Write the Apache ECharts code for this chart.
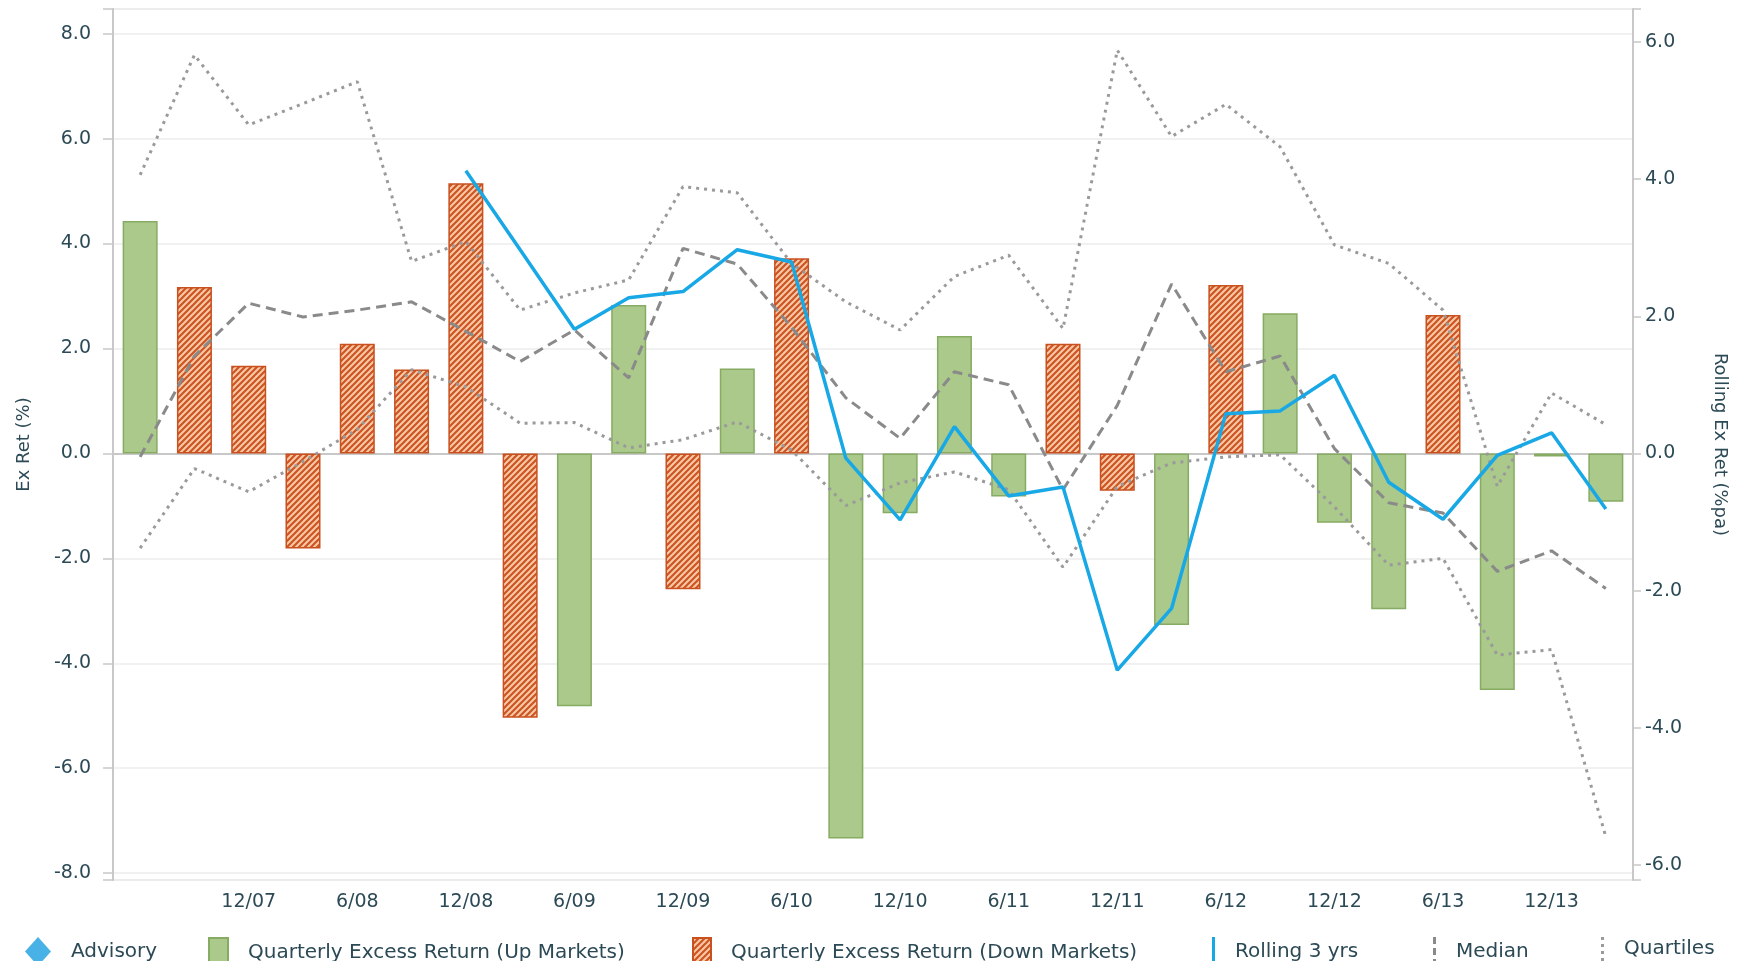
<!DOCTYPE html>
<html>
<head>
<meta charset="utf-8">
<script src="https://cdn.jsdelivr.net/npm/echarts@6/dist/echarts.min.js"></script>
<style>
  html, body { margin: 0; padding: 0; background: #fff; }
  #main { width: 1747px; height: 961px; }
</style>
</head>
<body>
<div id="main"></div>
<script>
var quarters = ['6/07', '9/07', '12/07', '3/08', '6/08', '9/08', '12/08', '3/09', '6/09', '9/09',
  '12/09', '3/10', '6/10', '9/10', '12/10', '3/11', '6/11', '9/11', '12/11', '3/12',
  '6/12', '9/12', '12/12', '3/13', '6/13', '9/13', '12/13', '3/14']

// quarterly excess return (%), split by market direction
var upMarkets = [4.43, '-', '-', '-', '-', '-', '-', '-', -4.82, 2.83,
  '-', 1.62, '-', -7.34, -1.14, 2.24, -0.82, '-', '-', -3.27,
  '-', 2.67, -1.32, -2.97, '-', -4.51, -0.06, -0.92]
var downMarkets = ['-', 3.17, 1.67, -1.81, 2.09, 1.60, 5.15, -5.04, '-', '-',
  -2.59, '-', 3.72, '-', '-', '-', '-', 2.09, -0.71, '-',
  3.21, '-', '-', '-', 2.64, '-', '-', '-']

// rolling excess return (%pa)
var rolling3y = ['-', '-', '-', '-', '-', '-', 4.12, 2.97, 1.81, 2.27,
  2.36, 2.97, 2.79, -0.07, -0.97, 0.39, -0.62, -0.49, -3.16, -2.26,
  0.58, 0.62, 1.14, -0.42, -0.96, -0.03, 0.30, -0.81]
var median = [-0.05, 1.42, 2.19, 1.99, 2.09, 2.21, 1.78, 1.34, 1.80, 1.10,
  2.99, 2.76, 1.84, 0.81, 0.22, 1.19, 1.00, -0.53, 0.70, 2.47,
  1.19, 1.42, 0.07, -0.72, -0.87, -1.72, -1.42, -1.97]
var upperQuartile = [4.06, 5.81, 4.79, 5.10, 5.42, 2.80, 3.09, 2.09, 2.34, 2.53,
  3.89, 3.80, 2.77, 2.21, 1.80, 2.58, 2.89, 1.82, 5.88, 4.62,
  5.09, 4.47, 3.04, 2.77, 2.09, -0.48, 0.88, 0.42]
var lowerQuartile = [-1.38, -0.22, -0.56, -0.12, 0.35, 1.22, 0.97, 0.44, 0.45, 0.08,
  0.20, 0.46, 0.05, -0.76, -0.43, -0.27, -0.53, -1.66, -0.48, -0.14,
  -0.05, -0.02, -0.78, -1.63, -1.53, -2.94, -2.86, -5.59]

var textColor = '#2c4a56'
var font = 'DejaVu Sans'

// hatched fill for the down-market bars
function hatch() {
  var s = 6
  var c = document.createElement('canvas')
  c.width = s
  c.height = s
  var ctx = c.getContext('2d')
  ctx.fillStyle = '#f7c9a6'
  ctx.fillRect(0, 0, s, s)
  ctx.strokeStyle = '#cc5523'
  ctx.lineWidth = 2.2
  ctx.beginPath()
  ctx.moveTo(-1, s + 1); ctx.lineTo(s + 1, -1)
  ctx.moveTo(-1, 1); ctx.lineTo(1, -1)
  ctx.moveTo(s - 1, s + 1); ctx.lineTo(s + 1, s - 1)
  ctx.stroke()
  return c
}
var hatchFill = { image: hatch(), repeat: 'repeat' }

function evenLabel(v) {
  var r = Math.round(v / 2) * 2
  return Math.abs(v - r) < 1e-6 ? v.toFixed(1) : ''
}

function legendAt(left, name, width, icon, color) {
  return {
    left: left,
    top: 932,
    itemWidth: width,
    itemHeight: 29,
    itemGap: 0,
    selectedMode: false,
    textStyle: { color: textColor, fontFamily: font, fontSize: 20, padding: [0, 0, 0, 15] },
    data: [{ name: name, icon: icon, itemStyle: color ? { color: color } : undefined }]
  }
}

var dashIcon = 'path://M0,0h3v7h-3zM0,11h3v7h-3zM0,22h3v7h-3z'
var dotIcon = 'path://M0,1h3v3h-3zM0,8h3v3h-3zM0,15h3v3h-3zM0,22h3v3h-3z'

var myChart = echarts.init(document.getElementById('main'))
var option = {
  animation: false,
  grid: {
    left: 113,
    right: 114,
    top: 9,
    bottom: 81,
    show: true,
    borderColor: '#e6e6e6',
    borderWidth: 1.5
  },
  legend: [
    legendAt(20, 'Advisory', 26, 'diamond', '#1a9fe0'),
    legendAt(203, 'Quarterly Excess Return (Up Markets)', 19, 'rect'),
    legendAt(687, 'Quarterly Excess Return (Down Markets)', 18, 'rect'),
    legendAt(1207, 'Rolling 3 yrs', 3, 'rect', '#19a8e6'),
    legendAt(1428, 'Median', 3, dashIcon, '#8a8a8a'),
    legendAt(1596, 'Quartiles', 3, dotIcon, '#9a9a9a')
  ],
  xAxis: {
    type: 'category',
    data: quarters,
    boundaryGap: true,
    axisLine: { lineStyle: { color: '#c8c8c8', width: 2 } },
    axisTick: {
      inside: true,
      length: 10,
      alignWithLabel: true,
      interval: function(i) { return i > 0 && i % 2 === 0 },
      lineStyle: { color: '#c8c8c8', width: 1.5 }
    },
    axisLabel: {
      interval: function(i) { return i > 0 && i % 2 === 0 },
      color: textColor,
      fontFamily: font,
      fontSize: 19,
      margin: 13
    },
    splitLine: { show: false }
  },
  yAxis: [
    {
      type: 'value',
      name: 'Ex Ret (%)',
      nameLocation: 'middle',
      nameGap: 80,
      nameTextStyle: { color: textColor, fontFamily: font, fontSize: 18 },
      min: -8.13,
      max: 8.47,
      splitNumber: 8,
      axisLine: { show: true, lineStyle: { color: '#c8c8c8', width: 2 } },
      axisTick: { show: true, length: 10, lineStyle: { color: '#c8c8c8', width: 1.5 } },
      axisLabel: { color: textColor, fontFamily: font, fontSize: 19, margin: 22, formatter: evenLabel },
      splitLine: { lineStyle: { color: '#ececec', width: 1.5 } }
    },
    {
      type: 'value',
      name: 'Rolling Ex Ret (%pa)',
      nameLocation: 'middle',
      nameGap: 78,
      nameRotate: -90,
      nameTextStyle: { color: textColor, fontFamily: font, fontSize: 18 },
      min: -6.22,
      max: 6.48,
      splitNumber: 6,
      axisLine: { show: true, lineStyle: { color: '#c8c8c8', width: 2 } },
      axisTick: { show: true, length: 8, lineStyle: { color: '#c8c8c8', width: 1.5 } },
      axisLabel: { color: textColor, fontFamily: font, fontSize: 19, margin: 12, formatter: evenLabel },
      splitLine: { show: false }
    }
  ],
  series: [
    {
      name: 'Advisory',
      type: 'scatter',
      symbol: 'diamond',
      itemStyle: { color: '#1a9fe0' },
      data: []
    },
    {
      name: 'Quarterly Excess Return (Up Markets)',
      type: 'bar',
      barWidth: 35,
      barGap: '-100%',
      itemStyle: { color: '#aac98a', borderColor: '#86ab62', borderWidth: 1.5 },
      data: upMarkets
    },
    {
      name: 'Quarterly Excess Return (Down Markets)',
      type: 'bar',
      barWidth: 35,
      barGap: '-100%',
      itemStyle: { color: hatchFill, borderColor: '#c9501f', borderWidth: 1.5 },
      data: downMarkets
    },
    {
      name: 'Median',
      type: 'line',
      yAxisIndex: 1,
      symbol: 'none',
      itemStyle: { color: '#8a8a8a' },
      lineStyle: { color: '#8a8a8a', width: 3, type: [10, 6] },
      data: median
    },
    {
      name: 'Quartiles',
      type: 'line',
      yAxisIndex: 1,
      symbol: 'none',
      itemStyle: { color: '#9a9a9a' },
      lineStyle: { color: '#9a9a9a', width: 3, type: [3, 5] },
      data: upperQuartile
    },
    {
      name: 'Quartiles',
      type: 'line',
      yAxisIndex: 1,
      symbol: 'none',
      itemStyle: { color: '#9a9a9a' },
      lineStyle: { color: '#9a9a9a', width: 3, type: [3, 5] },
      data: lowerQuartile
    },
    {
      name: 'Rolling 3 yrs',
      type: 'line',
      yAxisIndex: 1,
      symbol: 'none',
      itemStyle: { color: '#19a8e6' },
      lineStyle: { color: '#19a8e6', width: 3.5 },
      data: rolling3y
    }
  ]
}
myChart.setOption(option)
</script>
</body>
</html>
